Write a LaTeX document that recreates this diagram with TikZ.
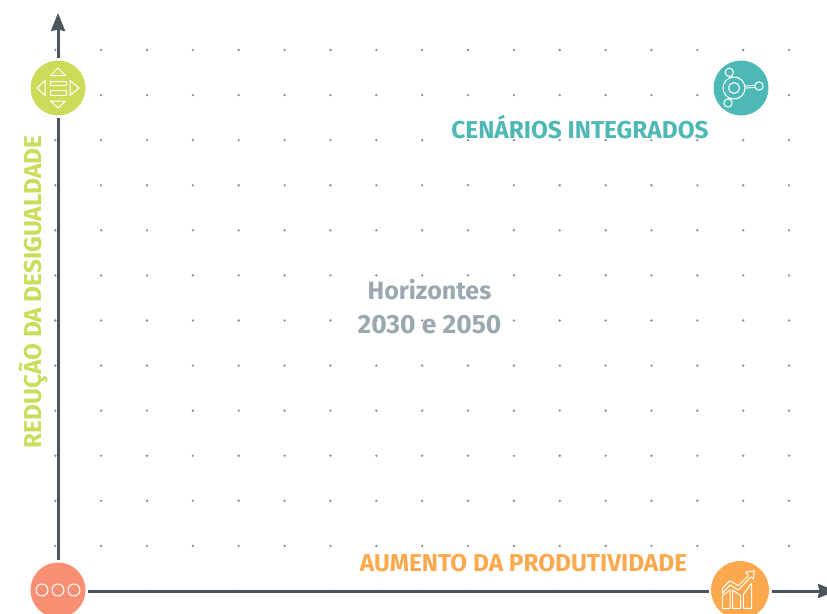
\documentclass[tikz,border=0pt]{standalone}
\usepackage{fontspec}
\setmainfont{Fira Sans}
\usetikzlibrary{arrows.meta}
\definecolor{axisgray}{HTML}{4A555C}
\definecolor{dotgray}{HTML}{8C8C8C}
\definecolor{textgray}{HTML}{9AA8B0}
\definecolor{limegreen}{HTML}{CADC5A}
\definecolor{tealblue}{HTML}{4DB8B5}
\definecolor{sunorange}{HTML}{FBA94C}
\definecolor{salmonred}{HTML}{F98F72}
\tikzstyle{griddot} = [fill=dotgray,circle,inner sep=0pt,minimum size=2.6pt]
\tikzstyle{badge}   = [circle,inner sep=0pt,minimum size=55pt,outer sep=2.5pt]
\tikzstyle{axis}    = [axisgray,line width=3pt,-{Stealth[length=18pt,width=14pt,inset=1.5pt]}]
\tikzstyle{plainaxis} = [axisgray,line width=3pt]
\tikzstyle{icon}    = [white,line width=1pt,line join=round]
\tikzstyle{title}   = [font=\bfseries\fontsize{24.4}{24.4}\selectfont,inner sep=0pt]
\tikzstyle{center text} = [textgray,font=\bfseries\fontsize{25}{25}\selectfont,inner sep=0pt]

\begin{document}
\begin{tikzpicture}[x=1pt,y=-1pt]
  \clip (0,0) rectangle (827,613);
  \useasboundingbox (0,0) rectangle (827,613);

  %put the dots of the grid
  \foreach \x in {0,...,16}{
    \foreach \y in {0,...,12}{
      \node[griddot] (d\x-\y) at ({55.3+45.86*\x},{50+45.08*\y}) {};
    }
  }

  %put the four circles
  \node[badge,fill=limegreen] (equity) at (58,88) {};
  \node[badge,fill=tealblue] (integrated) at (741,88) {};
  \node[badge,fill=salmonred] (origin) at (58,590) {};
  \node[badge,fill=sunorange,minimum size=58pt] (growth) at (740,590) {};

  %the two axes
  \coordinate (ytip) at (58,13);
  \coordinate (xtip) at (836,591);
  \draw[plainaxis] (origin) -- (equity);
  \draw[axis] (equity) -- (ytip);
  \draw[plainaxis] (origin.east |- xtip) -- (growth.west |- xtip);
  \draw[axis] (growth.east |- xtip) -- (xtip);

  %labels
  \node[title,limegreen,rotate=90] (ylabel) at (33,292) {REDUÇÃO DA DESIGUALDADE};
  \node[title,tealblue] (toplabel) at (580,127) {CENÁRIOS INTEGRADOS};
  \node[title,sunorange] (xlabel) at (523.5,563) {AUMENTO DA PRODUTIVIDADE};
  \node[center text] (horizon) at (429.5,290) {Horizontes};
  \node[center text,font=\bfseries\fontsize{26.4}{26.4}\selectfont] (years) at (429.5,325) {2030 e 2050};

  %icon of the green circle
  \begin{scope}[shift={(equity.center)}]
    \draw[icon] (0,-20) -- (7.5,-12.5) -- (-7.5,-12.5) -- cycle;
    \draw[icon] (0,20) -- (7.5,13) -- (-7.5,13) -- cycle;
    \draw[icon] (-21,0) -- (-13,-7.5) -- (-13,7.5) -- cycle;
    \draw[icon] (21,0) -- (12,-7.5) -- (12,7.5) -- cycle;
    \draw[icon] (-8,-7) rectangle (8,-2.7);
    \draw[icon] (-8,2) rectangle (8,7);
  \end{scope}

  %icon of the teal circle
  \begin{scope}[shift={(integrated.center)}]
    \foreach \px/\py in {-11.7/-15.7,18/-2,-13/15}{
      \draw[white,line width=3pt] (-7,0) -- (\px,\py);
      \draw[tealblue,line width=1pt] (-7,0) -- (\px,\py);
      \draw[icon,fill=tealblue] (\px,\py) circle (4.2);
    }
    \draw[icon,fill=tealblue] (-7,0) circle (11);
    \draw[icon] (-7,0) circle (5.5);
  \end{scope}

  %icon of the red circle
  \begin{scope}[shift={(origin.center)}]
    \foreach \x in {-16,0,16}{
      \draw[icon] (\x,0) circle (6);
    }
  \end{scope}

  %icon of the orange circle
  \begin{scope}[shift={(growth.center)}]
    \draw[icon] (-17.7,5.7) -- (-10,0) -- (-10,18.3) -- (-17.7,18.3) -- cycle;
    \draw[icon] (-7.3,0) -- (0.7,5.7) -- (0.7,18.3) -- (-7.3,18.3) -- cycle;
    \draw[icon] (3.3,4.3) -- (11.7,-6.7) -- (11.7,18.3) -- (3.3,18.3) -- cycle;
    \draw[icon] (-17.7,-1.7) -- (-10,-9.3) -- (-1.7,-4.3) -- (8.3,-14.3) -- (5.7,-17.7) -- (14.3,-19.3) -- (13.3,-11) -- (10.7,-13) -- (-1.7,0) -- (-10,-5) -- (-17.7,3.3) -- cycle;
  \end{scope}
\end{tikzpicture}
\end{document}
